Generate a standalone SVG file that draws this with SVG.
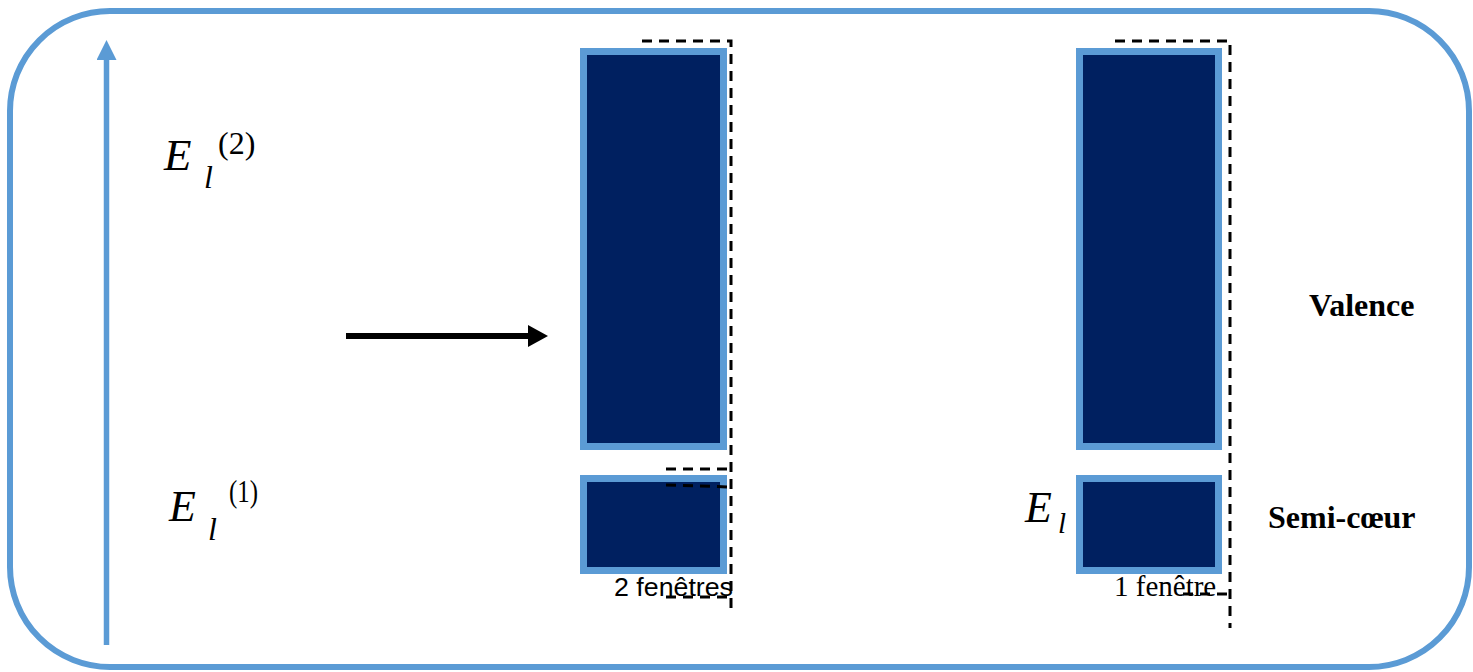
<svg xmlns="http://www.w3.org/2000/svg" width="1473" height="672" viewBox="0 0 1473 672">
  <style>
    .band { fill: #002060; stroke: #5B9BD5; stroke-width: 7; }
    .dash { fill: none; stroke: #000; stroke-width: 3; stroke-dasharray: 10 7; }
    .math { font-family: "Liberation Serif", "Times New Roman", serif; fill: #000; }
    .it { font-style: italic; }
    .label { font-family: "Liberation Serif", "Times New Roman", serif; font-weight: bold; font-size: 32px; fill: #000; }
    .note-sans { font-family: "Liberation Sans", Arial, sans-serif; font-size: 26px; fill: #000; }
    .note-serif { font-family: "Liberation Serif", "Times New Roman", serif; font-size: 29px; fill: #000; }
  </style>
  <defs>
    <marker id="headBlue" viewBox="0 0 20 20" refX="0" refY="10" markerWidth="20" markerHeight="20" markerUnits="userSpaceOnUse" orient="auto">
      <path d="M0,0 L20,10 L0,20 Z" fill="#5B9BD5"/>
    </marker>
    <marker id="headBlack" viewBox="0 0 20 22" refX="0" refY="11" markerWidth="20" markerHeight="22" markerUnits="userSpaceOnUse" orient="auto">
      <path d="M0,0 L20,11 L0,22 Z" fill="#000"/>
    </marker>
  </defs>

  <rect width="1473" height="672" fill="#fff"/>

  <!-- outer frame -->
  <rect id="frame" x="10" y="11" width="1459" height="656" rx="100" ry="100" fill="none" stroke="#5B9BD5" stroke-width="6"/>

  <!-- connectors -->
  <g id="connectors">
    <line id="energy-axis" x1="106.5" y1="645" x2="106.5" y2="60" stroke="#5B9BD5" stroke-width="5.5" marker-end="url(#headBlue)"/>
    <line id="transition" x1="346" y1="336" x2="528" y2="336" stroke="#000" stroke-width="6" marker-end="url(#headBlack)"/>
  </g>

  <!-- energy labels -->
  <g id="label-E2">
    <text class="math it" x="164" y="170" font-size="45">E</text>
    <text class="math it" x="204" y="188" font-size="32">l</text>
    <text class="math" x="218" y="154" font-size="32">(2)</text>
  </g>
  <g id="label-E1">
    <text class="math it" x="169" y="521" font-size="44">E</text>
    <text class="math it" x="208" y="540" font-size="32">l</text>
    <text class="math" x="229" y="502" font-size="31" textLength="29" lengthAdjust="spacingAndGlyphs">(1)</text>
  </g>

  <!-- left column: two windows -->
  <g id="left-valence">
    <rect class="band" x="583.5" y="51.5" width="140" height="395"/>
  </g>
  <g id="left-core">
    <rect class="band" x="583.5" y="478.5" width="140" height="92"/>
  </g>
  <g id="left-windows">
    <path class="dash" d="M642,41 H731 V610"/>
    <path class="dash" d="M666,469 H731"/>
    <path class="dash" d="M666,485 L731,487"/>
    <path class="dash" d="M666,597 H731"/>
    <text class="note-sans" x="614" y="596" textLength="119" lengthAdjust="spacingAndGlyphs">2 fenêtres</text>
  </g>

  <!-- right column: one window -->
  <g id="right-valence">
    <rect class="band" x="1079.5" y="51.5" width="139" height="395"/>
  </g>
  <g id="right-core">
    <rect class="band" x="1079.5" y="478.5" width="139" height="92"/>
  </g>
  <g id="label-El">
    <text class="math it" x="1025" y="522" font-size="44">E</text>
    <text class="math it" x="1058" y="533" font-size="29">l</text>
  </g>
  <g id="right-window">
    <path class="dash" d="M1115,41 H1230 V628"/>
    <path class="dash" d="M1183,594 H1230"/>
    <text class="note-serif" x="1114" y="596">1 fenêtre</text>
  </g>

  <!-- band names -->
  <g id="label-valence">
    <text class="label" x="1309" y="316">Valence</text>
  </g>
  <g id="label-semicore">
    <text class="label" x="1268" y="528">Semi-cœur</text>
  </g>
</svg>
